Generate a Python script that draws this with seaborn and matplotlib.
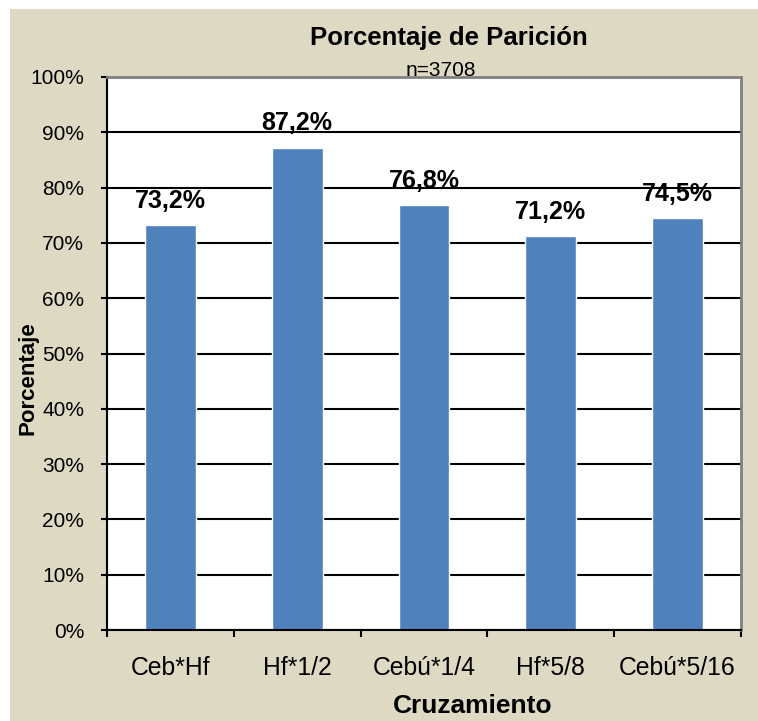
import matplotlib
matplotlib.use("Agg")
import matplotlib.pyplot as plt
import seaborn as sns
import pandas as pd
from matplotlib.patches import Rectangle
from matplotlib.ticker import PercentFormatter, FixedLocator

categories = ["Ceb*Hf", "Hf*1/2", "Cebú*1/4", "Hf*5/8", "Cebú*5/16"]
values = [73.2, 87.2, 76.8, 71.2, 74.5]
value_labels = ["73,2%", "87,2%", "76,8%", "71,2%", "74,5%"]
yticks = [0, 10, 20, 30, 40, 50, 60, 70, 80, 90, 100]

sns.set_theme(style="white")
plt.rcParams['font.family'] = ['Liberation Sans', 'DejaVu Sans']
plt.rcParams['text.color'] = 'black'
plt.rcParams['xtick.color'] = 'black'
plt.rcParams['ytick.color'] = 'black'
NARROW = ['Liberation Sans Narrow', 'Liberation Sans', 'DejaVu Sans']

W, H = 758, 721
fig = plt.figure(figsize=(W / 100, H / 100), dpi=100, facecolor="white")
beige = "#DDD9C3"
bg = Rectangle((10 / W, 0), 1 - 10 / W, (H - 9) / H,
               transform=fig.transFigure, facecolor=beige,
               edgecolor="none", zorder=-10)
fig.add_artist(bg)

ax = fig.add_axes([107 / W, 1 - 630 / H, (741 - 107) / W, (630 - 77) / H])
ax.set_zorder(1)
ax.set_facecolor("white")

df = pd.DataFrame({"Cruzamiento": categories, "Porcentaje": values})
sns.barplot(data=df, x="Cruzamiento", y="Porcentaje", color="#4F81BD",
            saturation=1, width=0.4, ax=ax, zorder=3)

ax.set_ylim(0, 100)
ax.set_xlim(-0.5, len(categories) - 0.5)
ax.set_yticks(yticks)
ax.yaxis.set_major_formatter(PercentFormatter(100, decimals=0))
ax.grid(axis="y", color="black", linewidth=1.5, zorder=1)
ax.set_axisbelow(True)

ax.tick_params(axis="y", which="major", direction="out", length=4.5, width=1.5,
               color="black", left=True, labelsize=15, pad=12, labelcolor="black")
ax.tick_params(axis="x", which="major", length=0, labelsize=17.8, pad=19,
               labelcolor="black")
ax.xaxis.set_minor_locator(FixedLocator([i - 0.5 for i in range(len(categories) + 1)]))
ax.tick_params(axis="x", which="minor", direction="out", length=5, width=1.5,
               color="black", bottom=True)
for lab in ax.get_xticklabels():
    lab.set_family(NARROW)

for s in ["left", "bottom"]:
    ax.spines[s].set_color("black")
    ax.spines[s].set_linewidth(1.5)
for s in ["top", "right"]:
    ax.spines[s].set_color("#808080")
    ax.spines[s].set_linewidth(2)
ax.spines["bottom"].set_zorder(5)

for i, (v, lab) in enumerate(zip(values, value_labels)):
    ax.annotate(lab, (i, v), xytext=(0, 9), textcoords="offset points",
                ha="center", va="bottom", fontsize=18, fontweight="bold",
                color="black", zorder=6)

ax.set_xlabel("")
ax.set_ylabel("")
fig.text(449 / W, 1 - 38 / H, "Porcentaje de Parición", ha="center", va="center",
         fontsize=18.5, fontweight="bold", family=NARROW, color="black")
fig.text(441 / W, 1 - 70 / H, "n=3708", ha="center", va="center",
         fontsize=15, family=NARROW, color="black")
fig.text(473 / W, 1 - 706 / H, "Cruzamiento", ha="center", va="center",
         fontsize=19, fontweight="bold", family=NARROW, color="black")
fig.text(28 / W, 1 - 378 / H, "Porcentaje", ha="center", va="center",
         fontsize=16, fontweight="bold", rotation=90, color="black")

fig.savefig("out.png", dpi=100, facecolor="white")
